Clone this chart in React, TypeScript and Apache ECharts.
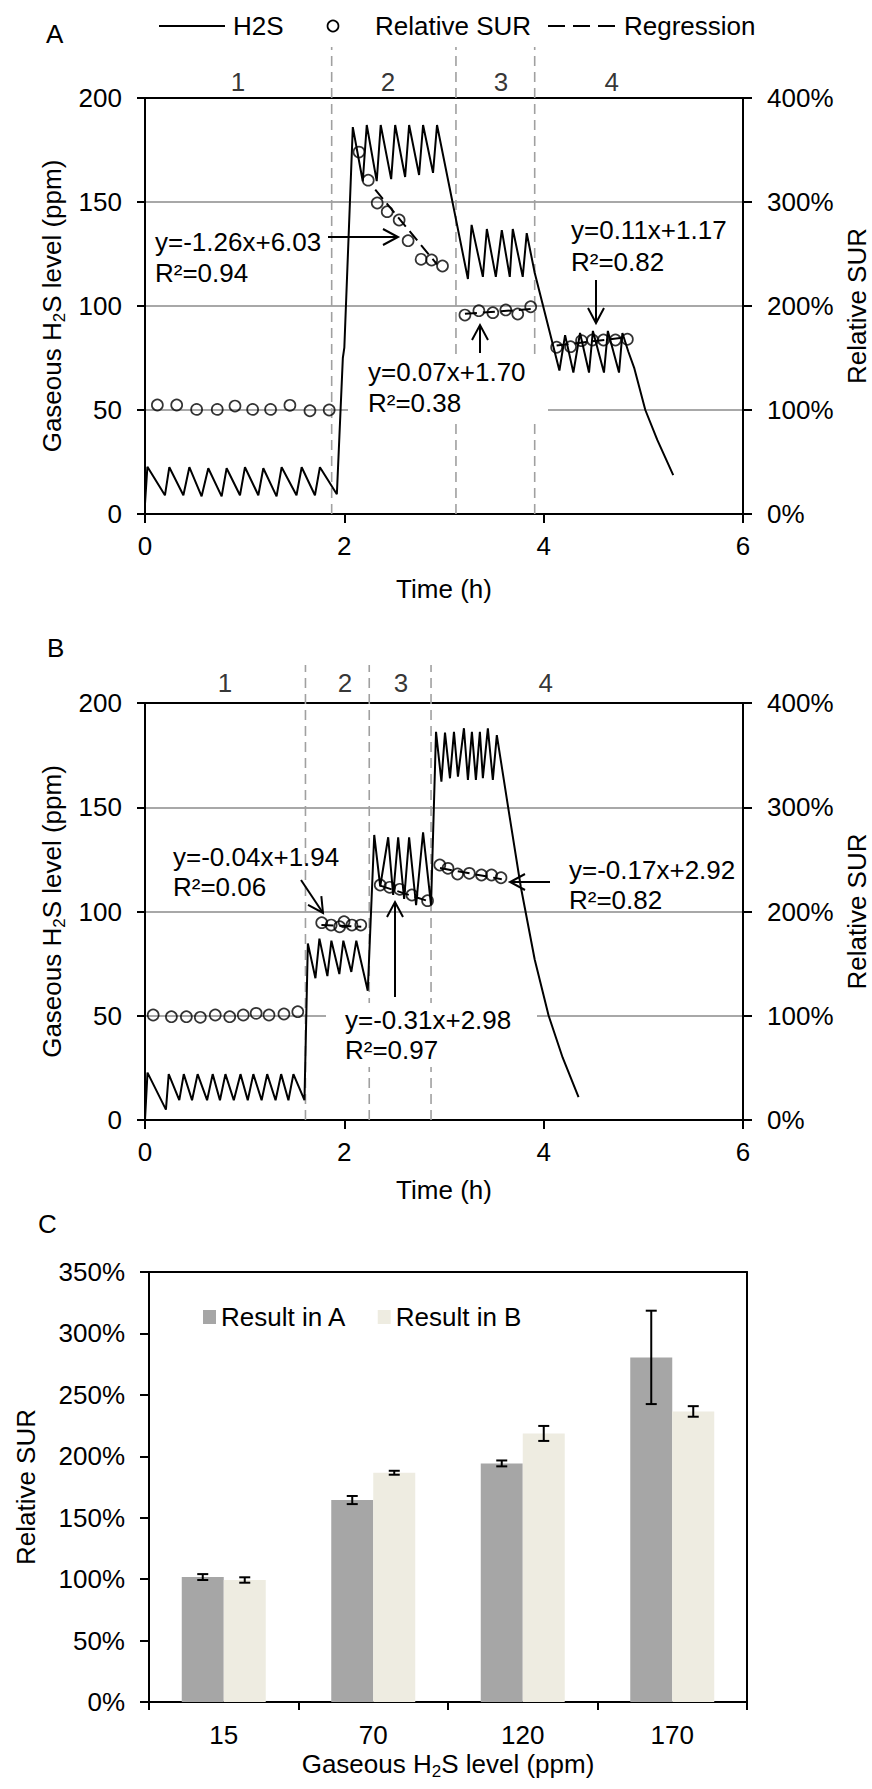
import React, { useEffect, useRef } from "react";
import * as echarts from "echarts";

const FONT = '"Liberation Sans", Arial, Helvetica, sans-serif';
const BLACK = "#000";

// ---------------- Panel A (time course, H2S in ppm; SUR in %) ----------------
const aH2S: number[][] = [
  [0.0, 5], [0.024, 22.7], [0.2, 9], [0.244, 22.5], [0.385, 9], [0.445, 22.5], [0.568, 8.5],
  [0.635, 22], [0.769, 8.5], [0.819, 22], [0.953, 9], [1.003, 22.5], [1.137, 9], [1.187, 22],
  [1.32, 8.5], [1.371, 22.5], [1.52, 9], [1.572, 22.5], [1.705, 9], [1.755, 22.5], [1.925, 9.5],
  [1.985, 75], [2.0, 80], [2.085, 186],
  [2.185, 160], [2.225, 187], [2.325, 160], [2.365, 187], [2.47, 161], [2.51, 187],
  [2.61, 162], [2.65, 187], [2.75, 163], [2.79, 187], [2.89, 164], [2.93, 187],
  [3.24, 113], [3.277, 139], [3.39, 114], [3.43, 137], [3.52, 114], [3.58, 136.5],
  [3.66, 114], [3.69, 137], [3.79, 114], [3.83, 135],
  [3.91, 116], [4.158, 69],
  [4.215, 86], [4.298, 68], [4.365, 87], [4.455, 68], [4.494, 88], [4.605, 68], [4.644, 88],
  [4.756, 68], [4.79, 87],
  [4.85, 78], [4.91, 70], [5.02, 50], [5.14, 35.6], [5.3, 18.7],
];
const aSurTime = [
  0.124, 0.318, 0.518, 0.725, 0.903, 1.08, 1.26, 1.454, 1.655, 1.848,
  2.147, 2.24, 2.33, 2.43, 2.55, 2.64, 2.77, 2.876, 2.985,
  3.21, 3.35, 3.49, 3.62, 3.74, 3.87,
  4.13, 4.27, 4.38, 4.49, 4.6, 4.72, 4.84,
];
const aSurValue = [
  104.8, 104.8, 100.6, 100.6, 103.8, 100.6, 100.6, 104.5, 99.3, 100,
  348, 321, 299, 290.7, 282.7, 262.8, 244.9, 244.2, 238.5,
  191.3, 195.5, 193.6, 196.2, 192.3, 199.3,
  160.3, 160.9, 166.7, 167.3, 167.3, 167.3, 168,
];
const aRegression: number[][][] = [
  [[2.31, 312], [2.93, 240]],
  [[3.21, 192.5], [3.87, 197]],
  [[4.13, 162], [4.84, 170]],
];
const aPhaseBounds = [1.873, 3.12, 3.91];
const aPhaseLabelX = [0.933, 2.437, 3.571, 4.684];

// ---------------- Panel B ----------------
const bH2S: number[][] = [
  [0, 0], [0.025, 22.7], [0.21, 5], [0.238, 22], [0.344, 9.5], [0.389, 22], [0.472, 9.5],
  [0.528, 22], [0.623, 9.5], [0.679, 22], [0.752, 9.5], [0.807, 22], [0.891, 9.5], [0.958, 22],
  [1.031, 9.5], [1.087, 22], [1.17, 9.5], [1.226, 22], [1.31, 9.5], [1.366, 22], [1.439, 9.5],
  [1.489, 22], [1.6, 9.5],
  [1.634, 84.7], [1.71, 68], [1.75, 87], [1.83, 69], [1.87, 86], [1.95, 70], [1.99, 86],
  [2.07, 71], [2.12, 86], [2.235, 62],
  [2.3, 136.7], [2.36, 112], [2.44, 135.6], [2.49, 108], [2.54, 135.6], [2.6, 106],
  [2.65, 135.6], [2.72, 103], [2.79, 138], [2.87, 103],
  [2.92, 186.2], [2.974, 162.3], [3.01, 185.8], [3.06, 163.9], [3.1, 186.2], [3.14, 164.7],
  [3.2, 187.9], [3.24, 163.1], [3.28, 186.2], [3.32, 163.1], [3.36, 186.2], [3.39, 163.9],
  [3.44, 187.9], [3.49, 163.1], [3.53, 184.6],
  [3.65, 148], [3.77, 112], [3.91, 77], [4.05, 50], [4.19, 30], [4.35, 11],
];
const bSurTime = [
  0.082, 0.265, 0.415, 0.555, 0.705, 0.85, 0.986, 1.115, 1.244, 1.394, 1.533,
  1.773, 1.868, 1.953, 1.997, 2.076, 2.165,
  2.36, 2.455, 2.556, 2.678, 2.835,
  2.958, 3.04, 3.136, 3.254, 3.376, 3.477, 3.572,
];
const bSurValue = [
  100.7, 99.1, 99.1, 98.5, 100.7, 99.1, 100.7, 102.3, 100.7, 101.7, 103.9,
  189.3, 187, 185.4, 190.2, 187, 187,
  225.4, 223.2, 221.3, 215.8, 210.4,
  244.6, 241.4, 236, 236.6, 235, 235, 232.4,
];
const bRegression: number[][][] = [
  [[1.77, 187], [2.17, 185.4]],
  [[2.36, 224.8], [2.84, 210]],
  [[2.96, 241.7], [3.58, 231]],
];
const bPhaseBounds = [1.61, 2.25, 2.87];
const bPhaseLabelX = [0.802, 2.006, 2.568, 4.022];

const phaseNames = ["1", "2", "3", "4"];

// ---------------- Panel C ----------------
const cCategories = ["15", "70", "120", "170"];
const cResultA = [101.7, 164.4, 194.2, 280.5];
const cErrorA = [2.4, 3.3, 2.4, 38];
const cResultB = [99.3, 186.6, 218.6, 236.5];
const cErrorB = [2.2, 1.6, 6.1, 4.3];

// Annotation texts
const aEquations = [
  ["y=-1.26x+6.03", "R²=0.94"],
  ["y=0.07x+1.70", "R²=0.38"],
  ["y=0.11x+1.17", "R²=0.82"],
];
const bEquations = [
  ["y=-0.04x+1.94", "R²=0.06"],
  ["y=-0.31x+2.98", "R²=0.97"],
  ["y=-0.17x+2.92", "R²=0.82"],
];

// ---------------- helpers ----------------
const axisLineStyle = { show: true, onZero: false, lineStyle: { color: BLACK, width: 2 } };
const tickOut = (len: number) => ({ show: true, inside: false, length: len, lineStyle: { color: BLACK, width: 2 } });
const labelStyle = (margin: number, formatter?: string) => ({
  show: true, margin, fontSize: 26, fontFamily: FONT, color: BLACK, ...(formatter ? { formatter } : {}),
});
const nameStyle = { fontSize: 26, fontFamily: FONT, color: BLACK };
const h2sName = "{t|Gaseous H}{s|2}{t|S level (ppm)}";
const h2sNameStyle = {
  ...nameStyle,
  lineHeight: 26,
  rich: {
    t: { fontSize: 26, fontFamily: FONT, color: BLACK, lineHeight: 26 },
    s: { fontSize: 17, fontFamily: FONT, color: BLACK, lineHeight: 26, padding: [14, 0, 0, 0] },
  },
};
const zip = (xs: number[], ys: number[]) => xs.map((x, i) => [x, ys[i]]);

function timeAxis(gridIndex: number, nameGap: number) {
  return {
    gridIndex, type: "value", min: 0, max: 6, interval: 2, position: "bottom",
    axisLine: axisLineStyle, axisTick: tickOut(9), axisLabel: labelStyle(19),
    splitLine: { show: false }, name: "Time (h)", nameLocation: "middle", nameGap,
    nameTextStyle: nameStyle,
  };
}
function topFrame(gridIndex: number) {
  return {
    gridIndex, type: "value", min: 0, max: 1, position: "top",
    axisLine: axisLineStyle, axisTick: { show: false }, axisLabel: { show: false }, splitLine: { show: false },
  };
}
function ppmAxis(gridIndex: number) {
  return {
    gridIndex, type: "value", min: 0, max: 200, interval: 50, position: "left",
    axisLine: axisLineStyle, axisTick: tickOut(8), axisLabel: labelStyle(23),
    splitLine: { show: true, showMinLine: false, showMaxLine: false, lineStyle: { color: "#a8a8a8", width: 1.8 } },
    name: h2sName, nameLocation: "middle", nameRotate: 90, nameGap: 78, nameTextStyle: h2sNameStyle,
  };
}
function surAxis(gridIndex: number) {
  return {
    gridIndex, type: "value", min: 0, max: 400, interval: 100, position: "right",
    axisLine: axisLineStyle, axisTick: tickOut(9), axisLabel: labelStyle(24, "{value}%"),
    splitLine: { show: false },
    name: "Relative SUR", nameLocation: "middle", nameRotate: 90, nameGap: 100, nameTextStyle: nameStyle,
  };
}

function panelSeries(p: number, h2s: number[][], surT: number[], surV: number[], regs: number[][][],
  bounds: number[], labelX: number[], labelY: number, sepTop: number) {
  const xi = 2 * p, yl = 2 * p, yr = 2 * p + 1;
  const list: any[] = [];
  bounds.forEach((b) => {
    list.push({
      type: "line", name: "phase boundary", xAxisIndex: xi, yAxisIndex: yl, data: [[b, 0], [b, sepTop]],
      symbol: "none", clip: false, silent: true, z: 1,
      lineStyle: { color: "#a0a0a0", width: 1.6, type: [10, 6] },
    });
  });
  list.push({
    type: "line", name: "H2S", xAxisIndex: xi, yAxisIndex: yl, data: h2s, symbol: "none",
    lineStyle: { color: BLACK, width: 2 }, z: 3, silent: true,
  });
  regs.forEach((r) => {
    list.push({
      type: "line", name: "Regression", xAxisIndex: xi, yAxisIndex: yr, data: r, symbol: "none",
      lineStyle: { color: BLACK, width: 2, type: [12, 6] }, z: 3, silent: true,
    });
  });
  list.push({
    type: "scatter", name: "Relative SUR", xAxisIndex: xi, yAxisIndex: yr, data: zip(surT, surV),
    symbol: "circle", symbolSize: 11, z: 4,
    itemStyle: { color: "rgba(255,255,255,0)", borderColor: BLACK, borderWidth: 1.7 },
  });
  list.push({
    type: "scatter", name: "phase", xAxisIndex: xi, yAxisIndex: yl, clip: false, silent: true,
    data: labelX.map((x, i) => [x, labelY, phaseNames[i]]), symbolSize: 1,
    itemStyle: { color: "rgba(0,0,0,0)" },
    label: { show: true, position: "inside", formatter: (q: any) => q.data[2], fontSize: 26, fontFamily: FONT, color: BLACK },
  });
  return list;
}

function errRender(side: number, halfBar: number) {
  return (params: any, api: any) => {
    const i = api.value(0), v = api.value(1), e = api.value(2);
    const top = api.coord([i, v + e]);
    const bot = api.coord([i, v - e]);
    const x = top[0] + side * halfBar;
    const cap = 5.5;
    const st = { stroke: BLACK, lineWidth: 2 };
    return {
      type: "group",
      children: [
        { type: "line", shape: { x1: x, y1: top[1], x2: x, y2: bot[1] }, style: st },
        { type: "line", shape: { x1: x - cap, y1: top[1], x2: x + cap, y2: top[1] }, style: st },
        { type: "line", shape: { x1: x - cap, y1: bot[1], x2: x + cap, y2: bot[1] }, style: st },
      ],
    };
  };
}

function txt(text: string, x: number, y: number, z = 10, extra: any = {}) {
  return {
    type: "text", z, silent: true,
    style: { text, x, y, fontSize: 26, fontFamily: FONT, fill: BLACK, align: "left", verticalAlign: "middle",
      textAlign: "left", textVerticalAlign: "middle", ...extra },
  };
}
function arrow(x1: number, y1: number, x2: number, y2: number) {
  const dx = x2 - x1, dy = y2 - y1;
  const len = Math.sqrt(dx * dx + dy * dy);
  const ux = dx / len, uy = dy / len;
  const px = -uy, py = ux;
  const L = 15, W = 8;
  const st = { stroke: BLACK, lineWidth: 2, fill: "none" };
  return {
    type: "group", z: 10, silent: true,
    children: [
      { type: "line", z: 10, shape: { x1, y1, x2, y2 }, style: st },
      {
        type: "polyline", z: 10,
        shape: { points: [[x2 - ux * L + px * W, y2 - uy * L + py * W], [x2, y2], [x2 - ux * L - px * W, y2 - uy * L - py * W]] },
        style: st,
      },
    ],
  };
}
function equation(lines: string[], x: number, y1: number, y2: number) {
  return [txt(lines[0], x, y1), txt(lines[1], x, y2)];
}

function buildOption(): any {
  const barWidth = 42;
  const graphics: any[] = [
    txt("A", 46, 34),
    txt("B", 47, 648),
    txt("C", 38, 1224),
    // legend of panels A/B
    { type: "line", silent: true, shape: { x1: 159, y1: 26, x2: 225, y2: 26 }, style: { stroke: BLACK, lineWidth: 2 } },
    txt("H2S", 233, 26),
    { type: "circle", silent: true, shape: { cx: 333, cy: 26, r: 5.5 }, style: { stroke: BLACK, lineWidth: 1.7, fill: "none" } },
    txt("Relative SUR", 375, 26),
    { type: "line", silent: true, shape: { x1: 548, y1: 26, x2: 615, y2: 26 }, style: { stroke: BLACK, lineWidth: 2, lineDash: [17, 8] } },
    txt("Regression", 624, 26),
    // white boxes behind equations
    { type: "rect", z: 1.5, silent: true, shape: { x: 348, y: 357, width: 200, height: 63 }, style: { fill: "#fff" } },
    { type: "rect", z: 1.5, silent: true, shape: { x: 326, y: 1003, width: 211, height: 64 }, style: { fill: "#fff" } },
    ...equation(aEquations[0], 155, 242, 273),
    ...equation(aEquations[1], 368, 372, 403),
    ...equation(aEquations[2], 571, 230, 262),
    ...equation(bEquations[0], 173, 857, 887),
    ...equation(bEquations[1], 345, 1020, 1050),
    ...equation(bEquations[2], 569, 870, 900),
    arrow(328, 237, 398, 237),
    arrow(480, 353, 480, 325),
    arrow(596, 280, 596, 323),
    arrow(301, 880, 323, 913),
    arrow(395, 997, 395, 902),
    arrow(550, 882, 510, 882),
  ];

  return {
    animation: false,
    backgroundColor: "#fff",
    textStyle: { fontFamily: FONT },
    grid: [
      { left: 145, top: 98, width: 598, height: 416, outerBoundsMode: "none", containLabel: false },
      { left: 145, top: 703, width: 598, height: 417, outerBoundsMode: "none", containLabel: false },
      { left: 149, top: 1272, width: 598, height: 430, outerBoundsMode: "none", containLabel: false },
    ],
    legend: [
      {
        data: ["Result in A", "Result in B"], left: 198, top: 1299, icon: "rect",
        itemWidth: 13, itemHeight: 14, itemGap: 31, selectedMode: false,
        textStyle: { fontSize: 26, fontFamily: FONT, color: BLACK },
      },
    ],
    xAxis: [
      timeAxis(0, 62), topFrame(0),
      timeAxis(1, 57), topFrame(1),
      {
        gridIndex: 2, type: "category", data: cCategories, position: "bottom",
        axisLine: axisLineStyle, axisTick: tickOut(8), axisLabel: labelStyle(20),
        splitLine: { show: false },
        name: h2sName, nameLocation: "middle", nameGap: 49, nameTextStyle: h2sNameStyle,
      },
      topFrame(2),
    ],
    yAxis: [
      ppmAxis(0), surAxis(0),
      ppmAxis(1), surAxis(1),
      {
        gridIndex: 2, type: "value", min: 0, max: 350, interval: 50, position: "left",
        axisLine: axisLineStyle, axisTick: tickOut(9), axisLabel: labelStyle(24, "{value}%"),
        splitLine: { show: false },
        name: "Relative SUR", nameLocation: "middle", nameRotate: 90, nameGap: 110, nameTextStyle: nameStyle,
      },
      {
        gridIndex: 2, type: "value", min: 0, max: 1, position: "right",
        axisLine: axisLineStyle, axisTick: { show: false }, axisLabel: { show: false }, splitLine: { show: false },
      },
    ],
    series: [
      ...panelSeries(0, aH2S, aSurTime, aSurValue, aRegression, aPhaseBounds, aPhaseLabelX, 207.7, 224.5),
      ...panelSeries(1, bH2S, bSurTime, bSurValue, bRegression, bPhaseBounds, bPhaseLabelX, 209.6, 218.2),
      {
        type: "bar", name: "Result in A", xAxisIndex: 4, yAxisIndex: 4, data: cResultA,
        barWidth, barGap: "0%", itemStyle: { color: "#a6a6a6" }, z: 2,
      },
      {
        type: "bar", name: "Result in B", xAxisIndex: 4, yAxisIndex: 4, data: cResultB,
        barWidth, barGap: "0%", itemStyle: { color: "#eeece1" }, z: 2,
      },
      {
        type: "custom", name: "Error A", xAxisIndex: 4, yAxisIndex: 4, z: 5, silent: true,
        data: cResultA.map((v, i) => [i, v, cErrorA[i]]), encode: { x: 0, y: 1 },
        renderItem: errRender(-1, barWidth / 2),
      },
      {
        type: "custom", name: "Error B", xAxisIndex: 4, yAxisIndex: 4, z: 5, silent: true,
        data: cResultB.map((v, i) => [i, v, cErrorB[i]]), encode: { x: 0, y: 1 },
        renderItem: errRender(1, barWidth / 2),
      },
    ],
    graphic: { elements: graphics },
  };
}

export default function App() {
  const ref = useRef<HTMLDivElement>(null);
  useEffect(() => {
    if (!ref.current) return;
    const chart = echarts.init(ref.current, null, { renderer: "svg" });
    chart.setOption(buildOption());
    return () => chart.dispose();
  }, []);
  return (
    <div
      ref={ref}
      style={{ position: "absolute", left: 0, top: 0, width: 872, height: 1789, background: "#fff" }}
    />
  );
}
